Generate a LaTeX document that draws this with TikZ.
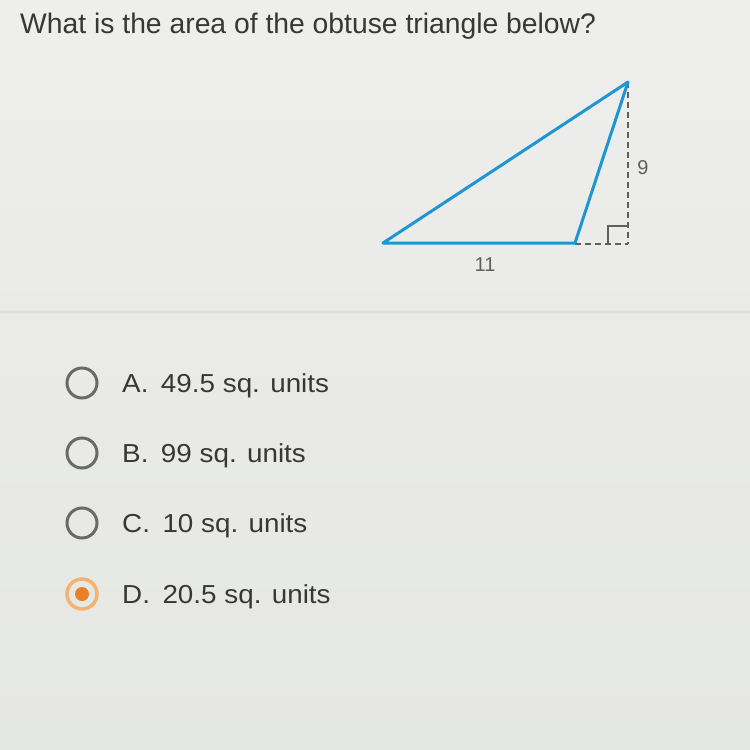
\documentclass[tikz,border=0pt]{standalone}
\usepackage{fontspec}
\setmainfont{Liberation Sans}
\definecolor{bgtop}{RGB}{238,238,236}
\definecolor{bgbot}{RGB}{229,231,226}
\definecolor{txt}{RGB}{55,55,55}
\definecolor{tri}{RGB}{30,150,212}
\definecolor{ring}{RGB}{105,105,105}
\definecolor{orng}{RGB}{232,128,40}
\definecolor{orngl}{RGB}{246,178,112}
\definecolor{sep}{RGB}{220,220,218}
\begin{document}
\begin{tikzpicture}[x=1pt,y=-1pt,
  question/.style={anchor=base west,inner sep=0pt,text=txt,font=\fontsize{28.3}{32}\selectfont},
  option/.style={anchor=base west,inner sep=0pt,text=txt,font=\fontsize{26}{30}\selectfont},
  dimlabel/.style={inner sep=0pt,text=txt!80,font=\fontsize{20}{22}\selectfont},
  side/.style={draw=tri,line width=3pt,line join=round,line cap=round},
  helper/.style={draw=txt!80,line width=1.3pt,dash pattern=on 6pt off 4pt},
  radio/.style={circle,draw=ring,line width=3pt,minimum size=30pt,inner sep=0pt}]
\useasboundingbox (0,0) rectangle (750,750);
\shade[top color=bgtop,bottom color=bgbot] (0,0) rectangle (750,750);
\draw[sep,line width=1.2pt] (0,312) -- (750,312);
% question
\node[question] (q) at (20,33) {What is the area of the obtuse triangle below?};
% triangle
\coordinate (L) at (383,243);
\coordinate (R) at (575,243);
\coordinate (T) at (628,82);
\coordinate (F) at (628,244);
\coordinate (Fh) at (575,244);
\draw[helper] (T) -- (F);
\draw[helper] (Fh) -- (F);
\draw[draw=txt!80,line width=1.3pt] (608,244) -- (608,226) -- (628,226);
\draw[side] (L) -- (R) -- (T) -- cycle;
\node[dimlabel] (h) at (643,168) {9};
\node[dimlabel] (b) at (485,265) {11};
% options
\node[radio] (ra) at (82,383) {};
\node[radio] (rb) at (82,453) {};
\node[radio] (rc) at (82,523) {};
\node[circle,draw=orngl,line width=3.5pt,minimum size=30pt,inner sep=0pt] (rd) at (82,594) {};
\node[circle,fill=orng,minimum size=14pt,inner sep=0pt] (rdi) at (82,594) {};
\node[option] (oa) at (122,392) {\scalebox{1.07}[1]{A.\hspace{0.45em}49.5 sq. units}};
\node[option] (ob) at (122,462) {\scalebox{1.07}[1]{B.\hspace{0.45em}99 sq. units}};
\node[option] (oc) at (122,532) {\scalebox{1.07}[1]{C.\hspace{0.45em}10 sq. units}};
\node[option] (od) at (122,603) {\scalebox{1.07}[1]{D.\hspace{0.45em}20.5 sq. units}};
\end{tikzpicture}
\end{document}
